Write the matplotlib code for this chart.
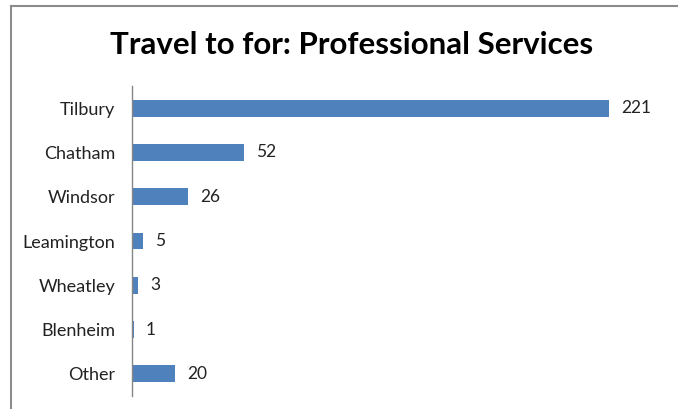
import matplotlib.pyplot as plt
from matplotlib.lines import Line2D

# Responses per destination
towns = ['Tilbury', 'Chatham', 'Windsor', 'Leamington', 'Wheatley', 'Blenheim', 'Other']
counts = [221, 52, 26, 5, 3, 1, 20]

plt.rcParams['font.family'] = ['Lato', 'DejaVu Sans']

fig = plt.figure(figsize=(6.78, 4.09), dpi=100)
ax = fig.add_axes([132 / 678, 13 / 409, 540 / 678, 310 / 409])

ypos = list(range(len(towns)))
ax.barh(ypos, counts, height=0.38, color='#4F81BD')
ax.set_ylim(len(towns) - 0.5, -0.5)
ax.set_xlim(0, 250)

for y, v in zip(ypos, counts):
    ax.text(v + 5.5, y, str(v), va='center', ha='left', fontsize=12.5, color='#222222')

ax.set_yticks(ypos)
ax.set_yticklabels(towns, fontsize=13, color='#222222')
ax.tick_params(axis='y', length=0, pad=12)
ax.set_xticks([])
for side in ['top', 'right', 'bottom']:
    ax.spines[side].set_visible(False)
ax.spines['left'].set_color('#868686')
ax.spines['left'].set_linewidth(1)

fig.text(352 / 678, 1 - 45 / 409, 'Travel to for: Professional Services',
         ha='center', va='center', fontsize=22.5, fontweight='bold', color='black')

# chart frame (top and left edges)
fig.add_artist(Line2D([10.5 / 678, 10.5 / 678], [0, 1 - 5.5 / 409],
                      transform=fig.transFigure, color='#8c8c8c', linewidth=1.5))
fig.add_artist(Line2D([10.5 / 678, 1], [1 - 5.5 / 409, 1 - 5.5 / 409],
                      transform=fig.transFigure, color='#8c8c8c', linewidth=1.5))

fig.savefig('out.png', dpi=100)
